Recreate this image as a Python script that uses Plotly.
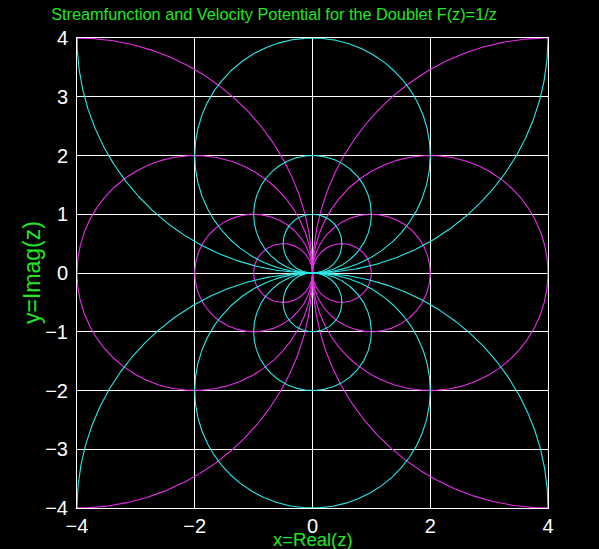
import numpy as np
import plotly.graph_objects as go

# Contour circles of the doublet F(z)=1/z: each level set is a circle through the origin
radii = [4, 2, 1, 0.5]                 # circle radii for both families
potential_centers_sign = [1, -1]       # cyan: centres on the imaginary axis (0, ±r)
stream_centers_sign = [1, -1]          # magenta: centres on the real axis (±r, 0)
x_ticks = [-4, -2, 0, 2, 4]
y_ticks = [-4, -3, -2, -1, 0, 1, 2, 3, 4]

CYAN = "#2ee8e8"
MAGENTA = "#e82ee8"
GREEN = "#22e622"
FONT = "Liberation Sans, Arial, sans-serif"

theta = np.linspace(0, 2 * np.pi, 1441)
fig = go.Figure()

for r in radii:
    for s in stream_centers_sign:
        cx, cy = s * r, 0.0
        fig.add_trace(go.Scatter(x=cx + r * np.cos(theta), y=cy + r * np.sin(theta),
                                 mode="lines", line=dict(color=MAGENTA, width=1.1),
                                 hoverinfo="skip", showlegend=False))
for r in radii:
    for s in potential_centers_sign:
        cx, cy = 0.0, s * r
        fig.add_trace(go.Scatter(x=cx + r * np.cos(theta), y=cy + r * np.sin(theta),
                                 mode="lines", line=dict(color=CYAN, width=1.1),
                                 hoverinfo="skip", showlegend=False))

axis_common = dict(
    showgrid=True, gridcolor="white", gridwidth=1, zeroline=False,
    showline=True, linecolor="white", linewidth=1, mirror=True,
    ticks="", ticklen=0, automargin=False,
    tickfont=dict(family=FONT, size=20, color="white"),
)
fig.update_xaxes(range=[-4, 4], tickvals=x_ticks, ticklabelstandoff=0, **axis_common)
fig.update_yaxes(range=[-4, 4], tickvals=y_ticks, ticklabelstandoff=4, **axis_common)

fig.update_layout(
    width=599, height=549,
    margin=dict(l=77, r=51, t=38, b=41),
    paper_bgcolor="black", plot_bgcolor="black",
    title=dict(text="Streamfunction and Velocity Potential for the Doublet F(z)=1/z",
               font=dict(family=FONT, size=16.3, color=GREEN),
               xref="container", yref="container", x=274 / 599, y=1 - 14 / 549,
               xanchor="center", yanchor="middle"),
    annotations=[
        dict(text="x=Real(z)", xref="paper", yref="paper", x=(313 - 77) / 471,
             y=-(527 - 508) / 470, xanchor="center", yanchor="top", showarrow=False,
             font=dict(family=FONT, size=18.5, color=GREEN)),
        dict(text="y=Imag(z)", xref="paper", yref="paper", x=-(77 - 47) / 471,
             y=(508 - 272) / 470, xanchor="right", yanchor="middle", textangle=-90,
             showarrow=False, font=dict(family=FONT, size=23, color=GREEN)),
    ],
)

fig.write_html("out.html", config={"displayModeBar": False},
               post_script="document.body.style.margin='0';")
